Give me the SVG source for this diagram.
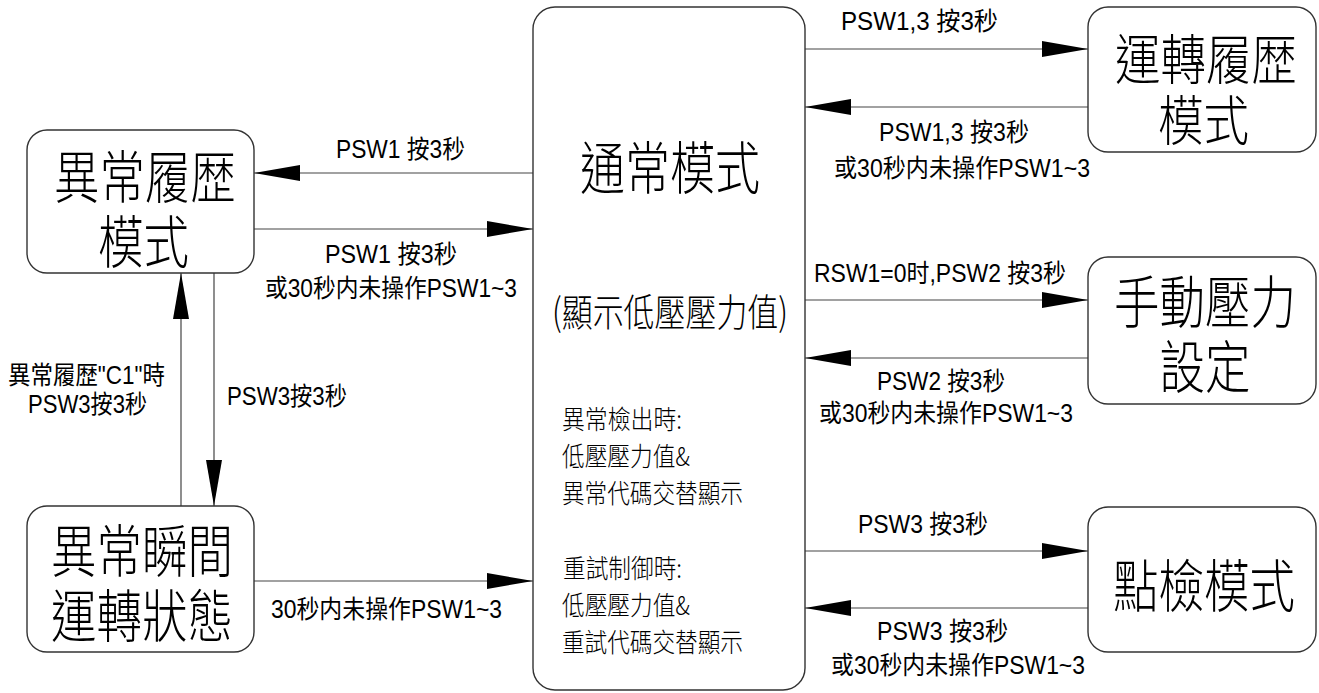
<svg xmlns="http://www.w3.org/2000/svg" width="1319" height="693" viewBox="0 0 1319 693">
<style>
.box{fill:#fff;stroke:#333;stroke-width:1.4}
.ln{stroke:#444;stroke-width:1.2;fill:none;marker-end:url(#ah)}
.big{font-family:"Liberation Sans","Noto Sans CJK TC","Noto Sans CJK JP",sans-serif;font-size:57px;font-weight:300;fill:#000;text-anchor:middle}
.mid{font-family:"Noto Sans CJK TC","Noto Sans CJK JP",sans-serif;font-size:38px;font-weight:300;fill:#000;text-anchor:middle}
.sm{font-family:"Noto Sans CJK TC","Noto Sans CJK JP",sans-serif;font-size:26px;font-weight:300;fill:#000}
.lb{font-family:"Liberation Sans","Noto Sans CJK TC","Noto Sans CJK JP",sans-serif;font-size:25px;fill:#000}
</style>
<defs>
<marker id="ah" markerUnits="userSpaceOnUse" markerWidth="46" markerHeight="16" refX="46" refY="8" orient="auto">
<path d="M0,0 L46,8 L0,16 Z" fill="#000"/>
</marker>
</defs>
<rect width="1319" height="693" fill="#fff"/>

<g id="connectors">
<line class="ln" x1="533" y1="173" x2="254" y2="173"/>
<line class="ln" x1="254" y1="229" x2="533" y2="229"/>
<line class="ln" x1="181" y1="506" x2="181" y2="273"/>
<line class="ln" x1="214" y1="273" x2="214" y2="506"/>
<line class="ln" x1="254" y1="581" x2="533" y2="581"/>
<line class="ln" x1="805" y1="49" x2="1088" y2="49"/>
<line class="ln" x1="1088" y1="107" x2="805" y2="107"/>
<line class="ln" x1="805" y1="300" x2="1088" y2="300"/>
<line class="ln" x1="1088" y1="358" x2="805" y2="358"/>
<line class="ln" x1="805" y1="551" x2="1088" y2="551"/>
<line class="ln" x1="1088" y1="608" x2="805" y2="608"/>
</g>

<g id="labels">
<text class="lb" x="336" y="158" textLength="129" lengthAdjust="spacingAndGlyphs">PSW1 按3秒</text>
<text class="lb" x="325" y="263" textLength="132" lengthAdjust="spacingAndGlyphs">PSW1 按3秒</text>
<text class="lb" x="265" y="297" textLength="252" lengthAdjust="spacingAndGlyphs">或30秒内未操作PSW1~3</text>
<text class="lb" x="8" y="384" textLength="157" lengthAdjust="spacingAndGlyphs">異常履歴"C1"時</text>
<text class="lb" x="28" y="413" textLength="119" lengthAdjust="spacingAndGlyphs">PSW3按3秒</text>
<text class="lb" x="227" y="405" textLength="120" lengthAdjust="spacingAndGlyphs">PSW3按3秒</text>
<text class="lb" x="271" y="618" textLength="231" lengthAdjust="spacingAndGlyphs">30秒内未操作PSW1~3</text>
<text class="lb" x="841" y="30" textLength="157" lengthAdjust="spacingAndGlyphs">PSW1,3  按3秒</text>
<text class="lb" x="879" y="141" textLength="150" lengthAdjust="spacingAndGlyphs">PSW1,3 按3秒</text>
<text class="lb" x="834" y="177" textLength="256" lengthAdjust="spacingAndGlyphs">或30秒内未操作PSW1~3</text>
<text class="lb" x="814" y="282" textLength="252" lengthAdjust="spacingAndGlyphs">RSW1=0时,PSW2 按3秒</text>
<text class="lb" x="877" y="390" textLength="128" lengthAdjust="spacingAndGlyphs">PSW2 按3秒</text>
<text class="lb" x="819" y="422" textLength="254" lengthAdjust="spacingAndGlyphs">或30秒内未操作PSW1~3</text>
<text class="lb" x="858" y="533" textLength="130" lengthAdjust="spacingAndGlyphs">PSW3 按3秒</text>
<text class="lb" x="877" y="640" textLength="131" lengthAdjust="spacingAndGlyphs">PSW3 按3秒</text>
<text class="lb" x="831" y="674" textLength="254" lengthAdjust="spacingAndGlyphs">或30秒内未操作PSW1~3</text>
</g>

<g id="normal">
<rect class="box" x="533" y="7" width="272" height="683" rx="22"/>
<text class="big" transform="translate(670,189) scale(0.79,1)">通常模式</text>
<text class="mid" x="670" y="326" textLength="236" lengthAdjust="spacingAndGlyphs">(顯示低壓壓力值)</text>
<text class="sm" x="562" y="429" textLength="120" lengthAdjust="spacingAndGlyphs">異常檢出時:</text>
<text class="sm" x="562" y="466" textLength="128" lengthAdjust="spacingAndGlyphs">低壓壓力值&amp;</text>
<text class="sm" x="562" y="503" textLength="181" lengthAdjust="spacingAndGlyphs">異常代碼交替顯示</text>
<text class="sm" x="563" y="578" textLength="119" lengthAdjust="spacingAndGlyphs">重試制御時:</text>
<text class="sm" x="562" y="615" textLength="128" lengthAdjust="spacingAndGlyphs">低壓壓力值&amp;</text>
<text class="sm" x="562" y="652" textLength="181" lengthAdjust="spacingAndGlyphs">重試代碼交替顯示</text>
</g>

<g id="error-history">
<rect class="box" x="27" y="130" width="227" height="143" rx="20"/>
<text class="big" transform="translate(145,198) scale(0.798,1)"><tspan x="0" y="0">異常履歴</tspan><tspan x="-2" y="65">模式</tspan></text>
</g>

<g id="error-instant">
<rect class="box" x="27" y="506" width="227" height="146" rx="20"/>
<text class="big" transform="translate(142,572) scale(0.798,1)"><tspan x="0" y="0">異常瞬間</tspan><tspan x="0" y="65">運轉狀態</tspan></text>
</g>

<g id="run-history">
<rect class="box" x="1088" y="7" width="228" height="145" rx="20"/>
<text class="big" style="font-size:54px" transform="translate(1206,80) scale(0.843,1)"><tspan x="0" y="0">運轉履歴</tspan><tspan x="-3" y="61">模式</tspan></text>
</g>

<g id="manual-pressure">
<rect class="box" x="1088" y="257" width="228" height="147" rx="20"/>
<text class="big" transform="translate(1205,323) scale(0.798,1)"><tspan x="0" y="0">手動壓力</tspan><tspan x="0" y="65">設定</tspan></text>
</g>

<g id="inspection">
<rect class="box" x="1088" y="507" width="228" height="145" rx="20"/>
<text class="big" transform="translate(1204,607) scale(0.798,1)">點檢模式</text>
</g>
</svg>
